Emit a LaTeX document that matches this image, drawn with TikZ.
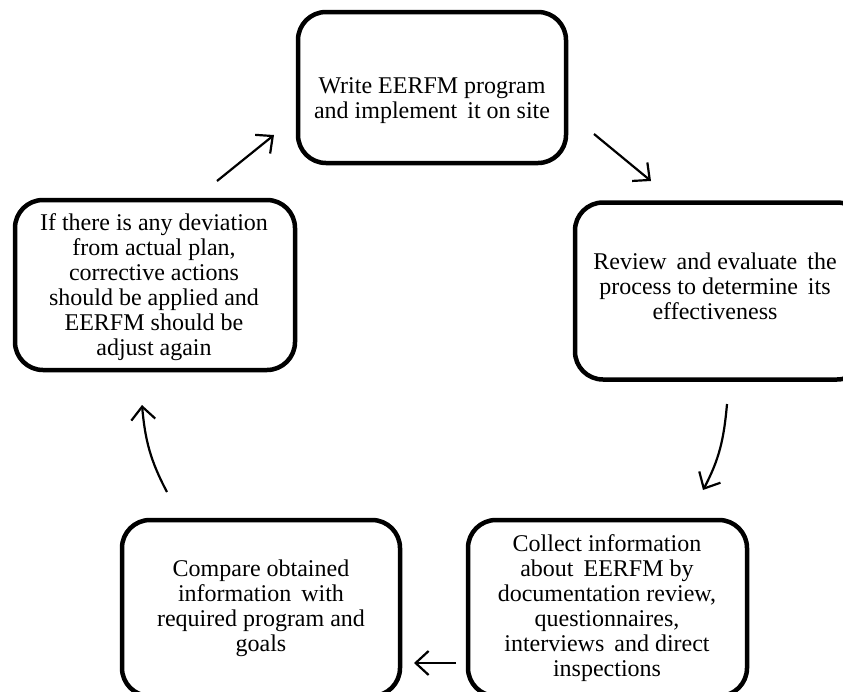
\documentclass[tikz,border=0pt]{standalone}
\usepackage{fontspec}
\setmainfont{Liberation Serif}
\usetikzlibrary{arrows.meta}
\begin{document}
\begin{tikzpicture}[x=1pt,y=-1pt,
  box/.style={draw, line width=4.5pt, rounded corners=28pt, inner sep=0pt},
  txt/.style={align=center, font=\fontsize{24}{25}\selectfont, inner sep=0pt},
  flow/.style={line width=2.2pt,
    -{Straight Barb[length=13pt,width=24pt,line width=2.2pt]}}]
\useasboundingbox (0,0) rectangle (843,691);
\clip (0,0) rectangle (843,691);
% boxes
\node[box, minimum width=268pt, minimum height=151pt] (A) at (432,87.5) {};
\node[box, minimum width=290pt, minimum height=177pt] (B) at (720,291) {};
\node[box, minimum width=279pt, minimum height=176pt] (C) at (607.5,608) {};
\node[box, minimum width=278pt, minimum height=176pt] (D) at (261,608) {};
\node[box, minimum width=280pt, minimum height=170pt] (E) at (155,285) {};
% texts
\node[txt] (At) at (432,101) {Write EERFM program\\and implement\, it on site};
\node[txt] (Bt) at (715,286) {Review\, and evaluate\, the\\process to determine\, its\\effectiveness};
\node[txt] (Ct) at (607,608) {Collect information\\about\, EERFM by\\documentation review,\\questionnaires,\\interviews\, and direct\\inspections};
\node[txt] (Dt) at (261,608) {Compare obtained\\information\, with\\required program and\\goals};
\node[txt] (Et) at (154,287) {If there is any deviation\\from actual plan,\\corrective actions\\should be applied and\\EERFM should be\\adjust again};
% connector ends
\coordinate (ea1) at (217,181);
\coordinate (ea2) at (274,135);
\coordinate (ab1) at (594,134);
\coordinate (ab2) at (651,181);
\coordinate (bc1) at (727,404);
\coordinate (bc2) at (703,490);
\coordinate (cd1) at (456,663);
\coordinate (cd2) at (414,663);
\coordinate (de1) at (167,492);
\coordinate (de2) at (142,405);
\draw[flow] (ea1) -- (ea2);
\draw[flow] (ab1) -- (ab2);
\draw[flow] (bc1) to[out=-95,in=62] (bc2);
\draw[flow] (cd1) -- (cd2);
\draw[flow] (de1) to[out=118,in=-85] (de2);
\end{tikzpicture}
\end{document}
